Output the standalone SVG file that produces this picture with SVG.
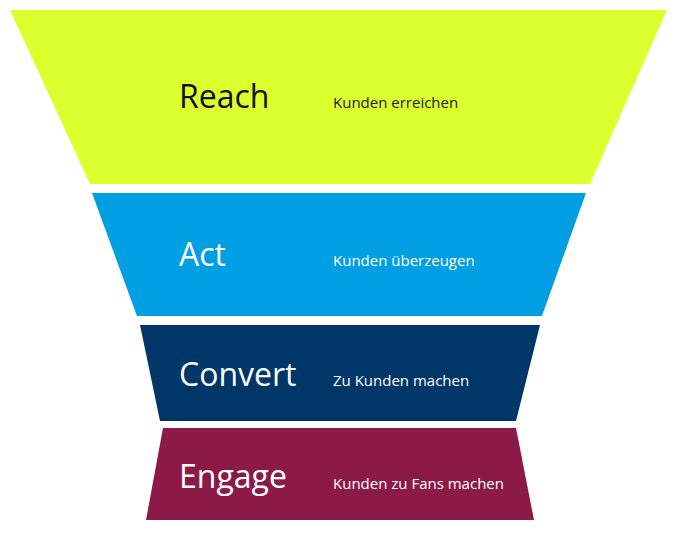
<svg xmlns="http://www.w3.org/2000/svg" width="681" height="534" viewBox="0 0 681 534">
<style>
.t{font-family:"Open Sans","Noto Sans",sans-serif;font-size:32px}
.s{font-family:"Open Sans","Noto Sans",sans-serif;font-size:15px}
</style>
<rect width="681" height="534" fill="#fff"/>
<g id="reach"><polygon points="10,10 667,10 590,184 90,184" fill="#dcff2e"/>
<text class="t" x="179" y="108" fill="#111">Reach</text><text class="s" x="333" y="108" fill="#222">Kunden erreichen</text></g>
<g id="act"><polygon points="92,193 586,193 542,316 137,316" fill="#009fe3"/>
<text class="t" x="179" y="266" fill="#fff">Act</text><text class="s" x="333" y="266" fill="#fff">Kunden überzeugen</text></g>
<g id="convert"><polygon points="140,325 540,325 516,421 160,421" fill="#003668"/>
<text class="t" x="179" y="386" fill="#fff">Convert</text><text class="s" x="333" y="386" fill="#fff">Zu Kunden machen</text></g>
<g id="engage"><polygon points="163,428 516,428 534,520 146,520" fill="#8b1a47"/>
<text class="t" x="179" y="488" fill="#fff">Engage</text><text class="s" x="333" y="489" fill="#fff">Kunden zu Fans machen</text></g>
<g id="connectors"/>
</svg>
